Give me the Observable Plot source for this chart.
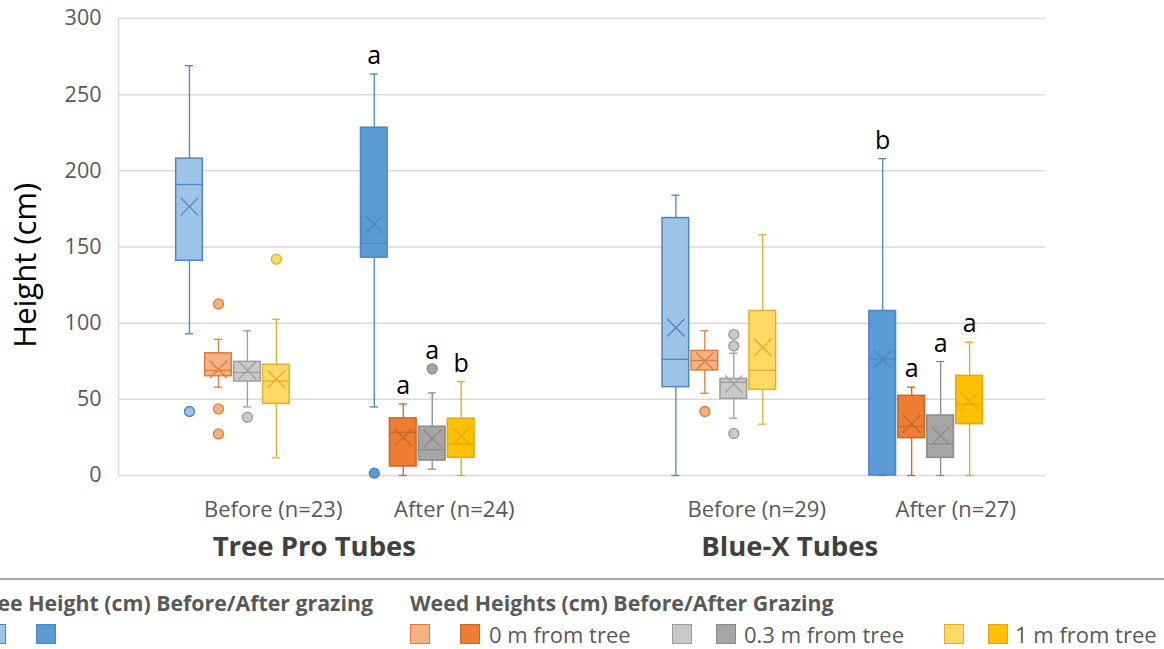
<!DOCTYPE html>
<html><head><meta charset="utf-8">
<script src="https://cdn.jsdelivr.net/npm/d3@7"></script>
<script src="https://cdn.jsdelivr.net/npm/@observablehq/plot@0.6"></script>
<style>
html,body{margin:0;padding:0;background:#fff;overflow:hidden;}
body{font-family:"Open Sans",sans-serif;width:1164px;height:649px;}
#legend{position:relative;width:1164px;height:74px;overflow:hidden;}
#legend .line{position:absolute;left:0;top:3px;width:1164px;height:2px;background:#a6a6a6;}
#legend .title{position:absolute;top:16px;height:24px;line-height:24px;font-size:21.3px;font-weight:700;color:#595959;white-space:nowrap;}
#legend .sw{position:absolute;top:49px;width:20px;height:20px;box-sizing:border-box;border:1.5px solid;}
#legend .lab{position:absolute;top:48px;height:22px;line-height:22px;font-size:22px;color:#595959;white-space:nowrap;}
</style></head><body>
<div id="chart"></div>
<div id="legend"></div>
<script>
// ---------- data ----------
const categories = ["Before (n=23)", "After (n=24)", "Before (n=29)", "After (n=27)"];
const phases = ["Before", "After", "Before", "After"];
const groups = ["Tree Pro Tubes", "Blue-X Tubes"];
const series = ["Tree", "0 m from tree", "0.3 m from tree", "1 m from tree"];
const yTicks = [0, 50, 100, 150, 200, 250, 300];
// values per category (rows) and series (columns), cm
const whiskerLow  = [[93, 58, 45, 11.6], [45, 0, 4.2, 0], [0, 54, 37.6, 33.7], [0, 0, 0, 0]];
const q1          = [[141, 65.2, 61.7, 47], [143, 5.9, 9.8, 11.6], [58, 69, 50.3, 56.2], [0, 24.5, 11.6, 33.7]];
const median      = [[191, 69, 67.6, 62], [152.4, 28.3, 17, 20.8], [76.3, 75.5, 61.2, 69], [76.3, 32.2, 20.8, 46.6]];
const q3          = [[208, 80.2, 74.6, 72.7], [228.3, 37.5, 32, 37.3], [169, 81.8, 63.4, 108], [108, 52.3, 39.4, 65.4]];
const whiskerHigh = [[269, 89.4, 95, 102.6], [263.6, 47, 54.2, 61.7], [184, 95, 80.3, 158], [208, 58, 74.8, 87.5]];
const means       = [[176.5, 69.6, 69, 63.2], [165, 25, 24.3, 25.9], [97, 75, 60, 84], [76.3, 34, 26.2, 49]];
const outliers    = [[[42], [112.6, 43.7, 27.3], [38.3], [142]], [[1.5], [], [70], []], [[], [42], [92.5, 85, 27.6], []], [[], [], [], []]];
const letters     = [[], ["a", "a", "a", "b"], [], ["b", "a", "a", "a"]];
const yTitle = "Height (cm)";

// ---------- layout & style ----------
const groupStart = [2.45, 8.83, 19.24, 26.38];   // slot units of the x scale
const catLabelPos = [5.34, 11.59, 22.03, 28.9];
const groupLabelPos = [6.76, 23.17];
const yTitlePos = {x: -3.2, y: 138};
const halfBox = 0.46, halfCap = 0.14;
const fills = {
  Before: ["#9DC3E6", "#F4B183", "#C9C9C9", "#FFD966"],
  After:  ["#5B9BD5", "#ED7D31", "#A5A5A5", "#FFC000"]
};
const strokes = {
  Before: ["#4A86C5", "#E07B39", "#9C9C9C", "#E3AE2B"],
  After:  ["#4A86C5", "#C9662A", "#8A8A8A", "#E3A810"]
};

const rows = [];
categories.forEach((cat, c) => series.forEach((s, k) => {
  rows.push({
    cat, series: s, phase: phases[c],
    pos: groupStart[c] + k,
    lo: whiskerLow[c][k], q1: q1[c][k], med: median[c][k], q3: q3[c][k], hi: whiskerHigh[c][k],
    mean: means[c][k], out: outliers[c][k], letter: letters[c][k],
    fill: fills[phases[c]][k], stroke: strokes[phases[c]][k]
  });
}));
const outRows = rows.flatMap(r => r.out.map(v => ({pos: r.pos, v, fill: r.fill, stroke: r.stroke})));
const letterRows = rows.filter(r => r.letter).map(r => ({pos: r.pos, top: Math.max(r.hi, ...r.out), letter: r.letter}));
const catRows = categories.map((c, i) => ({label: c, pos: catLabelPos[i]}));
const groupRows = groups.map((g, i) => ({label: g, pos: groupLabelPos[i]}));

const chart = Plot.plot({
  width: 1164, height: 575,
  marginLeft: 118, marginRight: 119, marginTop: 18, marginBottom: 100,
  style: {fontFamily: "Open Sans", background: "#fff"},
  x: {type: "linear", domain: [0, 32], axis: null},
  y: {domain: [0, 300], axis: null},
  marks: [
    Plot.ruleY(yTicks, {stroke: "#d9d9d9", strokeWidth: 1.5}),
    Plot.ruleX([0], {stroke: "#d9d9d9", strokeWidth: 1.5}),
    Plot.axisY(yTicks, {tickSize: 0, tickPadding: 17, fontSize: 21.5, fill: "#595959", label: null}),
    Plot.text([yTitle], {x: () => yTitlePos.x, y: () => yTitlePos.y, rotate: -90, fontSize: 31, fill: "#000"}),
    // whiskers
    Plot.ruleX(rows, {x: "pos", y1: "lo", y2: "q1", stroke: "stroke", strokeWidth: 1.3}),
    Plot.ruleX(rows, {x: "pos", y1: "q3", y2: "hi", stroke: "stroke", strokeWidth: 1.3}),
    Plot.ruleY(rows, {y: "lo", x1: d => d.pos - halfCap, x2: d => d.pos + halfCap, stroke: "stroke", strokeWidth: 1.3}),
    Plot.ruleY(rows, {y: "hi", x1: d => d.pos - halfCap, x2: d => d.pos + halfCap, stroke: "stroke", strokeWidth: 1.3}),
    // boxes
    Plot.rect(rows, {x1: d => d.pos - halfBox, x2: d => d.pos + halfBox, y1: "q1", y2: "q3", fill: "fill", stroke: "stroke", strokeWidth: 1.5}),
    Plot.ruleY(rows, {y: "med", x1: d => d.pos - halfBox, x2: d => d.pos + halfBox, stroke: "stroke", strokeWidth: 1.3}),
    Plot.dot(rows, {x: "pos", y: "mean", symbol: "times", r: 8, stroke: "stroke", strokeWidth: 1.3}),
    // outliers
    Plot.dot(outRows, {x: "pos", y: "v", r: 5, fill: "fill", stroke: "stroke", strokeWidth: 1.3}),
    // significance letters
    Plot.text(letterRows, {x: "pos", y: "top", text: "letter", dy: -18, fontSize: 25, fill: "#000"}),
    // category labels
    Plot.text(catRows, {x: "pos", text: "label", frameAnchor: "bottom", dy: 41, fontSize: 22, fill: "#595959"}),
    Plot.text(groupRows, {x: "pos", text: "label", frameAnchor: "bottom", dy: 80, fontSize: 27.5, fontWeight: 700, fill: "#404040"})
  ]
});
document.getElementById("chart").appendChild(chart);

// ---------- legend ----------
const lg = document.getElementById("legend");
function add(cls, style, text) {
  const d = document.createElement("div");
  d.className = cls;
  Object.assign(d.style, style);
  if (text) d.textContent = text;
  lg.appendChild(d);
}
add("line", {});
add("title", {left: "-227px", width: "600px", textAlign: "right"}, "Tree Height (cm) Before/After grazing");
add("title", {left: "410px"}, "Weed Heights (cm) Before/After Grazing");
add("sw", {left: "-14px", background: fills.Before[0], borderColor: strokes.Before[0]});
add("sw", {left: "36px", background: fills.After[0], borderColor: strokes.After[0]});
const swPos = [null, [410, 460, 489], [672, 716, 744], [944, 988, 1015]];
for (let k = 1; k < 4; k++) {
  const [a, b, t] = swPos[k];
  add("sw", {left: a + "px", background: fills.Before[k], borderColor: strokes.Before[k]});
  add("sw", {left: b + "px", background: fills.After[k], borderColor: strokes.After[k]});
  add("lab", {left: t + "px"}, series[k]);
}
</script>
</body></html>
